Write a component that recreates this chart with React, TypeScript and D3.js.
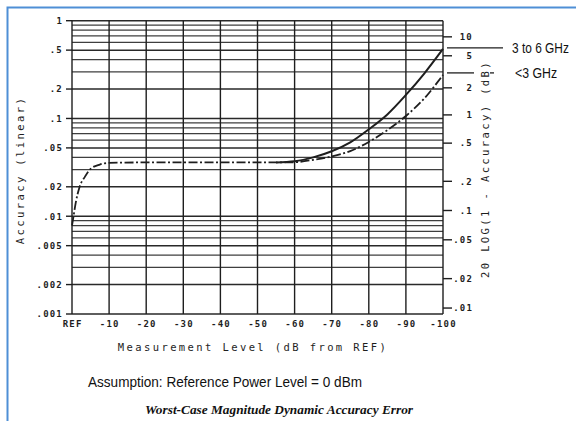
import React from 'react';
import * as d3 from 'd3';

// shared part of both curves (REF down to where they split)
const lowLevels = [0, -0.5, -1, -2, -3.5, -5, -7.5, -10, -20, -30, -40, -50, -55];
const lowAccuracy = [0.008, 0.0105, 0.0137, 0.0197, 0.0254, 0.0305, 0.0338, 0.0352, 0.0355, 0.0355, 0.0355, 0.0355, 0.0355];

// split part
const highLevels = [-55, -60, -65, -70, -75, -80, -85, -90, -95, -100];
const accuracy3to6 = [0.0355, 0.0365, 0.04, 0.0462, 0.057, 0.0775, 0.11, 0.174, 0.29, 0.514];
const accuracyUnder3 = [0.0355, 0.0357, 0.0377, 0.0409, 0.0464, 0.0575, 0.076, 0.106, 0.161, 0.279];

const xTicks = [0, -10, -20, -30, -40, -50, -60, -70, -80, -90, -100];
const xTickLabels = ['REF', '-10', '-20', '-30', '-40', '-50', '-60', '-70', '-80', '-90', '-100'];
const leftTicks = [1, 0.5, 0.2, 0.1, 0.05, 0.02, 0.01, 0.005, 0.002, 0.001];
const leftTickLabels = ['1', '.5', '.2', '.1', '.05', '.02', '.01', '.005', '.002', '.001'];
const rightTicksDb = [10, 5, 2, 1, 0.5, 0.2, 0.1, 0.05, 0.02, 0.01];
const rightTickLabels = ['10', '5', '2', '1', '.5', '.2', '.1', '.05', '.02', '.01'];

const W = 576;
const H = 421;
const plot = { left: 72, right: 443, top: 20.7, bottom: 314 };

const mono = "'DejaVu Sans Mono', monospace";
const sans = "'Liberation Sans', Arial, sans-serif";
const ink = '#1e1e1e';

export default function App() {
  const x = d3.scaleLinear().domain([0, -100]).range([plot.left, plot.right]);
  const y = d3.scaleLog().domain([0.001, 1]).range([plot.bottom, plot.top]);
  // dB error -> linear accuracy for right axis
  const dbToAcc = (db: number) => 1 - Math.pow(10, -db / 20);

  const gridVals: number[] = [];
  [0.001, 0.01, 0.1].forEach(dec => {
    for (let k = 1; k <= 9; k++) gridVals.push(k * dec);
  });
  gridVals.push(1);

  const line = d3.line<[number, number]>()
    .x(d => x(d[0]))
    .y(d => y(d[1]))
    .curve(d3.curveMonotoneX);

  const lowPts = lowLevels.map((l, i) => [l, lowAccuracy[i]] as [number, number]);
  const solidPts = highLevels.map((l, i) => [l, accuracy3to6[i]] as [number, number]);
  const dashPts = lowPts.concat(highLevels.slice(1).map((l, i) => [l, accuracyUnder3[i + 1]] as [number, number]));

  const endSolid = y(accuracy3to6[accuracy3to6.length - 1]);
  const endDash = y(accuracyUnder3[accuracyUnder3.length - 1]);

  const tickText = { fontFamily: mono, fontSize: 9, letterSpacing: 1.2, fill: ink, fontWeight: 'bold' as const };
  const titleText = { fontFamily: mono, fontSize: 10.5, letterSpacing: 2.4, fill: ink };

  return (
    <svg width={W} height={H} style={{ position: 'absolute', left: 0, top: 0, background: '#fff' }}>
      <rect x={0} y={0} width={W} height={H} fill="#fff" />
      {/* blue frame */}
      <path d={`M7.5,${H} V7.5 H${W}`} fill="none" stroke="#4f8fd6" strokeWidth={2} />

      {/* horizontal grid */}
      {gridVals.map(v => {
        const major = [1, 2, 5].some(k => Math.abs(v / Math.pow(10, Math.floor(Math.log10(v) + 1e-9)) - k) < 1e-6);
        return (
          <line key={v} x1={plot.left} x2={plot.right} y1={y(v)} y2={y(v)}
            stroke={ink} strokeWidth={major ? 1.5 : 1.2} opacity={major ? 0.95 : 0.85} />
        );
      })}
      {/* vertical grid */}
      {xTicks.map(t => (
        <line key={t} x1={x(t)} x2={x(t)} y1={plot.top} y2={plot.bottom} stroke={ink} strokeWidth={1.4} />
      ))}

      {/* left ticks */}
      {leftTicks.map((t, i) => (
        <g key={t}>
          <line x1={66} x2={plot.left} y1={y(t)} y2={y(t)} stroke={ink} strokeWidth={1.4} />
          <text x={63} y={y(t) + 3.3} textAnchor="end" {...tickText}>
            {leftTickLabels[i]}
          </text>
        </g>
      ))}

      {/* right ticks */}
      {rightTicksDb.map((t, i) => (
        <g key={t}>
          <line x1={plot.right} x2={452} y1={y(dbToAcc(t))} y2={y(dbToAcc(t))} stroke={ink} strokeWidth={1.4} />
          <text x={473} y={y(dbToAcc(t)) + 3.3} textAnchor="end" {...tickText}>
            {rightTickLabels[i]}
          </text>
        </g>
      ))}

      {/* bottom tick labels */}
      {xTicks.map((t, i) => (
        <text key={t} x={x(t) + 0.6} y={326.5} textAnchor="middle" {...tickText}>
          {xTickLabels[i]}
        </text>
      ))}

      {/* curves */}
      <path d={line(dashPts) || ''} fill="none" stroke={ink} strokeWidth={1.8} strokeDasharray="9 2.5 2 2.5" />
      <path d={line(solidPts) || ''} fill="none" stroke={ink} strokeWidth={2} />

      {/* axis titles */}
      <text x={253} y={351} textAnchor="middle" {...titleText}>
        Measurement Level (dB from REF)
      </text>
      <text transform="translate(24,170) rotate(-90)" textAnchor="middle" {...titleText}>
        Accuracy (linear)
      </text>
      <text transform="translate(489,169) rotate(-90)" textAnchor="middle" {...titleText}>
        20 LOG(1 - Accuracy) (dB)
      </text>

      {/* series labels */}
      <line x1={447} x2={503} y1={endSolid - 1} y2={endSolid - 1} stroke={ink} strokeWidth={1.3} />
      <text transform={`translate(512,${endSolid + 4}) scale(0.85,1)`} fontFamily={sans} fontSize={14} fill="#111">
        3 to 6 GHz
      </text>
      <line x1={447} x2={474} y1={endDash - 2} y2={endDash - 2} stroke={ink} strokeWidth={1.3} />
      <line x1={490} x2={494} y1={endDash - 2} y2={endDash - 2} stroke={ink} strokeWidth={1.3} />
      <text transform={`translate(515,${endDash + 3}) scale(0.88,1)`} fontFamily={sans} fontSize={14} fill="#111">
        &lt;3 GHz
      </text>

      {/* notes */}
      <text x={88} y={387} fontFamily={sans} fontSize={15} fill="#111" textLength={274} lengthAdjust="spacingAndGlyphs">
        Assumption: Reference Power Level = 0 dBm
      </text>
      <text x={145} y={414} fontFamily="'Liberation Serif', 'Times New Roman', serif" fontSize={13} fontWeight="bold" fontStyle="italic" fill="#111" textLength={268} lengthAdjust="spacingAndGlyphs">
        Worst-Case Magnitude Dynamic Accuracy Error
      </text>
    </svg>
  );
}
